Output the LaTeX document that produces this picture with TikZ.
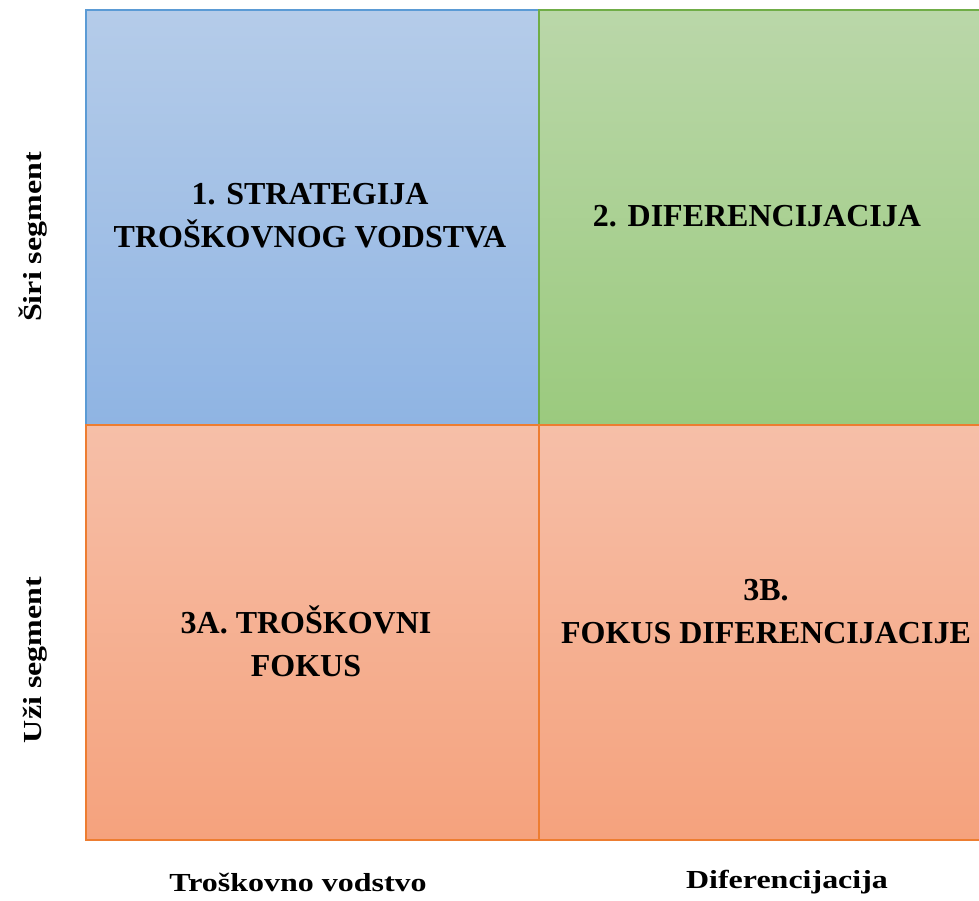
\documentclass[tikz,border=0pt]{standalone}
\usepackage{fontspec}
\setmainfont{Liberation Serif}
\definecolor{blueedge}{RGB}{91,155,213}
\definecolor{bluetop}{RGB}{181,204,233}
\definecolor{bluebot}{RGB}{143,180,227}
\definecolor{greenedge}{RGB}{112,173,71}
\definecolor{greentop}{RGB}{186,215,169}
\definecolor{greenbot}{RGB}{155,202,126}
\definecolor{orangeedge}{RGB}{237,125,49}
\definecolor{orangetop}{RGB}{246,191,168}
\definecolor{orangebot}{RGB}{245,162,125}
\newcommand{\qwl}{453}
\newcommand{\qwr}{441}
\newcommand{\qh}{415}

\begin{document}
\begin{tikzpicture}[x=1pt, y=-1pt,
	quad/.style={draw, line width=1.3pt, inner sep=0pt, outer sep=0pt, minimum height=\qh pt},
	quadtext/.style={font=\fontsize{32}{43}\selectfont\bfseries, align=center},
	axistext/.style={font=\fontsize{26}{30}\selectfont\bfseries, xscale=1.23}]
	\useasboundingbox (0,0) rectangle (979,900);
		% quadrants
		\node[quad, draw=blueedge, top color=bluetop, bottom color=bluebot, minimum width=\qwl pt] (q1) at (312.5,217.5) {};
		\node[quad, draw=greenedge, top color=greentop, bottom color=greenbot, minimum width=\qwr pt] (q2) at (759.5,217.5) {};
		\node[quad, draw=orangeedge, top color=orangetop, bottom color=orangebot, minimum width=\qwl pt] (q3) at (312.5,632.5) {};
		\node[quad, draw=orangeedge, top color=orangetop, bottom color=orangebot, minimum width=\qwr pt] (q4) at (759.5,632.5) {};
		% quadrant texts
		\node[quadtext] (t1) at (310,216) {1. STRATEGIJA\\TROŠKOVNOG VODSTVA};
		\node[quadtext] (t2) at (757,216) {2. DIFERENCIJACIJA};
		\node[quadtext] (t3a) at (306,641) {3A. TROŠKOVNI\\FOKUS};
		\node[quadtext] (t3b) at (766,612) {3B.\\FOKUS DIFERENCIJACIJE};
		% axes
		\node[rotate=90, axistext] (wide) at (33,237) {Širi segment};
		\node[rotate=90, axistext] (narrow) at (35,660) {Uži segment};
		\node[axistext] (cost) at (298,882) {Troškovno vodstvo};
		\node[axistext] (diff) at (787,882) {Diferencijacija};
\end{tikzpicture}
\end{document}
